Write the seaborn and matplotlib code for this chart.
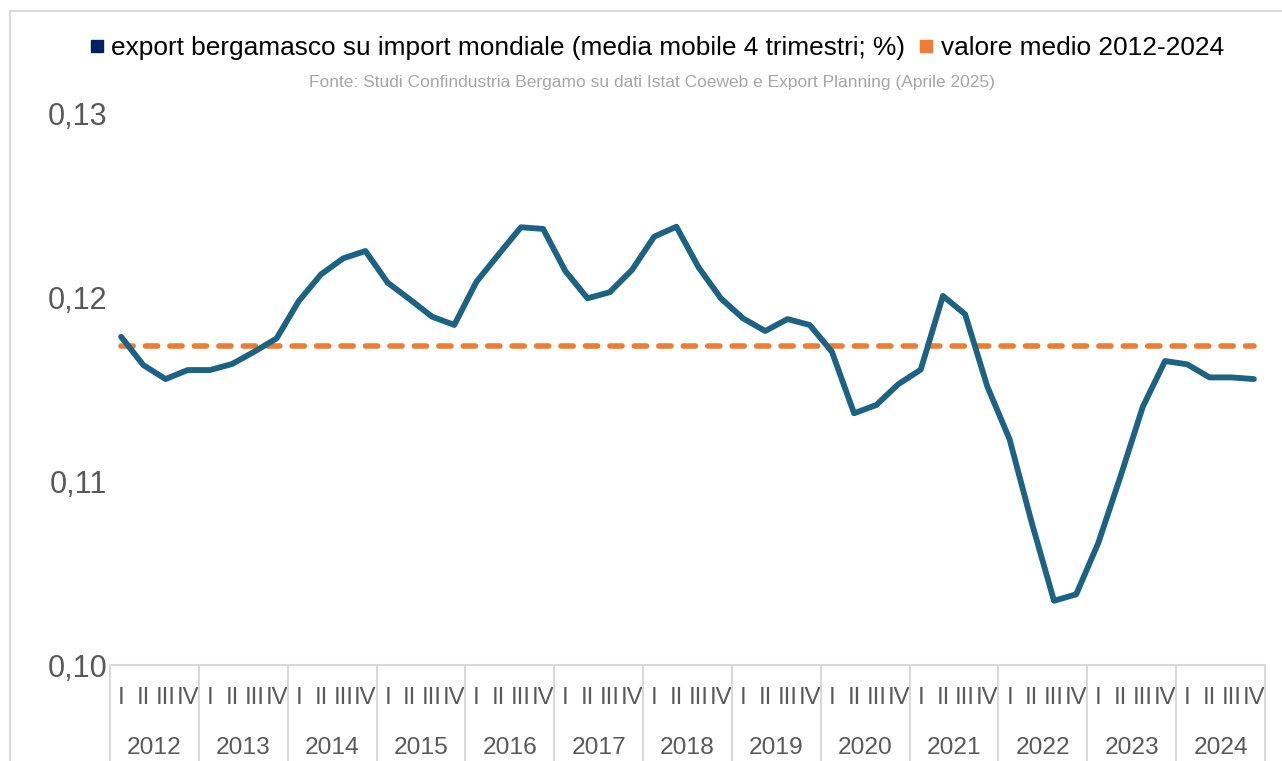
import numpy as np
import pandas as pd
import matplotlib
matplotlib.use('Agg')
import matplotlib.pyplot as plt
import matplotlib.transforms as mtransforms
from matplotlib.lines import Line2D
from matplotlib.patches import Rectangle
from matplotlib import font_manager as fm
import seaborn as sns

# ---------------- data ----------------
years = [str(y) for y in range(2012, 2025)]
quarters = ['I', 'II', 'III', 'IV']

v2012 = [0.11784, 0.11630, 0.11554, 0.11603]
v2013 = [0.11603, 0.11636, 0.11703, 0.11775]
v2014 = [0.11978, 0.12123, 0.12210, 0.12250]
v2015 = [0.12078, 0.11987, 0.11893, 0.11848]
v2016 = [0.12083, 0.12232, 0.12379, 0.12370]
v2017 = [0.12141, 0.11993, 0.12026, 0.12147]
v2018 = [0.12328, 0.12382, 0.12161, 0.11993]
v2019 = [0.11884, 0.11815, 0.11880, 0.11848]
v2020 = [0.11703, 0.11368, 0.11413, 0.11527]
v2021 = [0.11605, 0.12006, 0.11906, 0.11513]
v2022 = [0.11227, 0.10773, 0.10349, 0.10384]
v2023 = [0.10665, 0.11027, 0.11404, 0.11652]
v2024 = [0.11634, 0.11563, 0.11563, 0.11554]
mean_value = 0.11735

series_name = 'export bergamasco su import mondiale (media mobile 4 trimestri; %)'
mean_name = 'valore medio 2012-2024'
source_text = 'Fonte: Studi Confindustria Bergamo su dati Istat Coeweb e Export Planning (Aprile 2025)'
ytick_values = [0.10, 0.11, 0.12, 0.13]
ytick_labels = ['0,10', '0,11', '0,12', '0,13']

values = (v2012 + v2013 + v2014 + v2015 + v2016 + v2017 + v2018 +
          v2019 + v2020 + v2021 + v2022 + v2023 + v2024)
n = len(values)
df = pd.DataFrame({'idx': np.arange(n), 'value': values,
                   'mean': [mean_value] * n})

# ---------------- style ----------------
sns.set_theme(style='white')
names = {f.name for f in fm.fontManager.ttflist}
narrow = 'Liberation Sans Narrow' in names
fam = 'Liberation Sans Narrow' if narrow else 'Liberation Sans'
k = 1.0 if narrow else 0.86   # shrink regular font to match narrow widths
plt.rcParams['font.family'] = [fam, 'DejaVu Sans']

W, H = 1282, 761
fig = plt.figure(figsize=(W / 100, H / 100), dpi=100)
L, R, T, B = 110, 1265, 113, 665
ax = fig.add_axes([L / W, 1 - B / H, (R - L) / W, (B - T) / H])

line_color = '#1B6283'
orange = '#ED7D31'
gray_txt = '#595959'
gray_line = '#D9D9D9'

sns.lineplot(data=df, x='idx', y='mean', ax=ax, color=orange, linewidth=4.0,
             linestyle='--')
mline = ax.lines[-1]
mline.set_dashes([2.2, 2.2])
mline.set_dash_capstyle('round')

sns.lineplot(data=df, x='idx', y='value', ax=ax, color=line_color,
             linewidth=4.2, solid_joinstyle='round', solid_capstyle='round')

ax.set_xlim(-0.5, n - 0.5)
ax.set_ylim(0.10, 0.13)
ax.set_xlabel('')
ax.set_ylabel('')

ax.set_yticks(ytick_values)
ax.set_yticklabels(ytick_labels, fontsize=22, color=gray_txt)
ax.set_xticks(np.arange(n))
ax.set_xticklabels(quarters * len(years), fontsize=20 * k, color=gray_txt)
ax.tick_params(axis='x', length=0, pad=16)
ax.tick_params(axis='y', length=0, pad=2)

for s in ['left', 'right', 'top']:
    ax.spines[s].set_visible(False)
ax.spines['bottom'].set_color(gray_line)
ax.spines['bottom'].set_linewidth(1.5)

trans = mtransforms.blended_transform_factory(ax.transData, ax.transAxes)
for i in range(len(years) + 1):
    ax.plot([-0.5 + 4 * i] * 2, [0, -0.25], transform=trans, color=gray_line,
            lw=1.5, clip_on=False)
for i, yr in enumerate(years):
    ax.text(1.5 + 4 * i, (B - 748) / (B - T), yr, transform=trans,
            ha='center', va='center', fontsize=20.5 * k, color=gray_txt)

handles = [Line2D([], [], marker='s', linestyle='none', markersize=9,
                  markerfacecolor='#002060', markeredgecolor='#002060'),
           Line2D([], [], marker='s', linestyle='none', markersize=9,
                  markerfacecolor=orange, markeredgecolor=orange)]
fig.legend(handles, [series_name, mean_name], loc='center',
           bbox_to_anchor=(655 / W, 1 - 48 / H), ncol=2, frameon=False,
           fontsize=22 * k, handletextpad=0.15, columnspacing=0.4,
           handlelength=0.8, borderaxespad=0, labelcolor='black')

fig.text(652 / W, 1 - 82 / H, source_text, ha='center', va='center',
         fontsize=14.6 * k, color='#A6A6A6')

fig.patches.append(Rectangle((10 / W, -0.05), 1.2, 1 - 11 / H + 0.05,
                             transform=fig.transFigure, fill=False,
                             edgecolor=gray_line, lw=1.5))

fig.savefig('out.png', dpi=100)
